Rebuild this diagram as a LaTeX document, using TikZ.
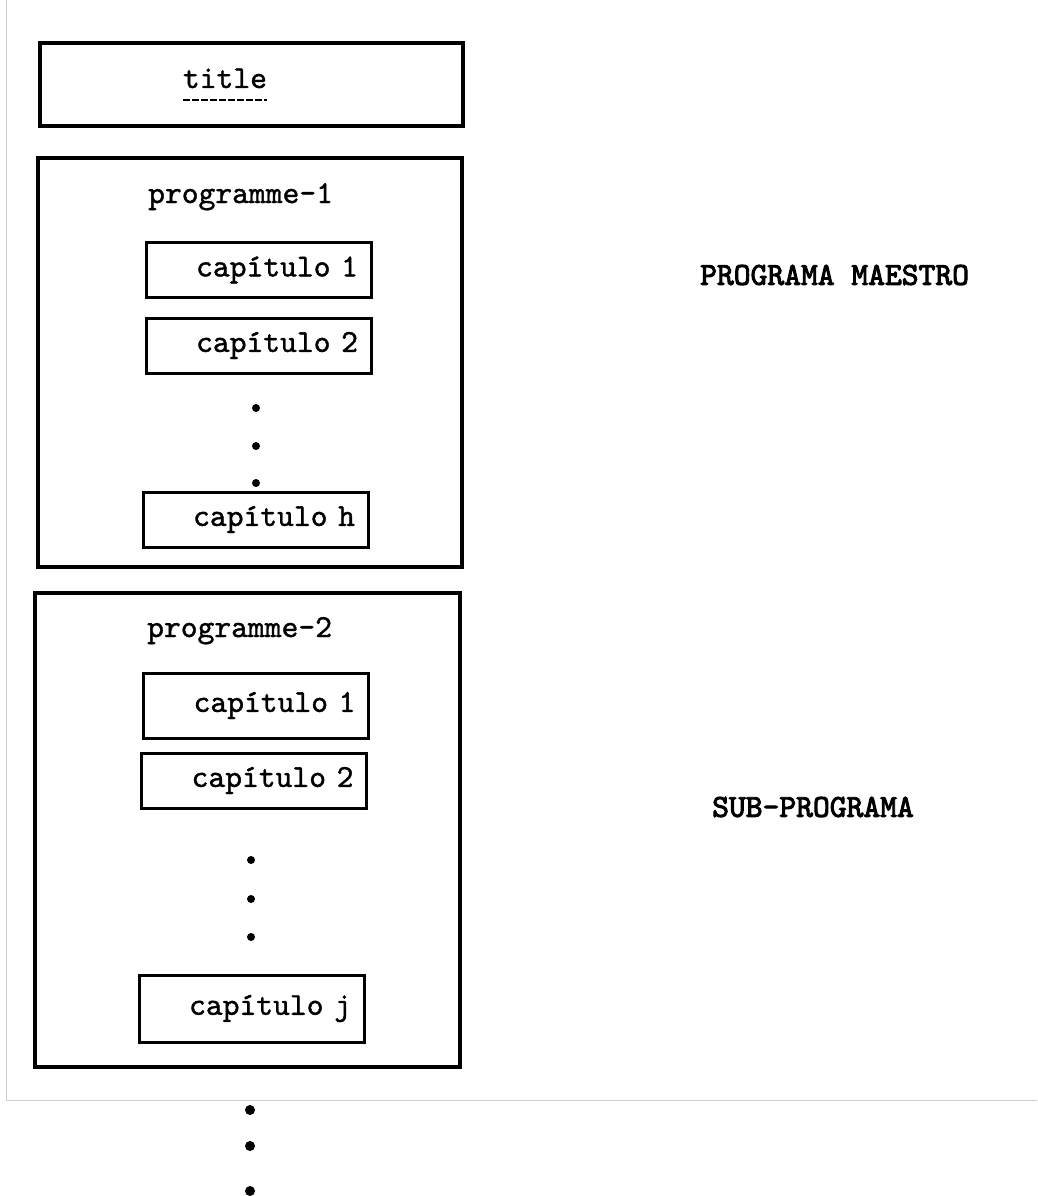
\documentclass[tikz,border=0pt]{standalone}
\usepackage{fontspec}
\usepackage{tikz}
\usetikzlibrary{positioning}
\newfontfamily\typeface{lmmono10-regular.otf}[FakeBold=1.2]
\newfontfamily\typeheavy{lmmono10-regular.otf}[FakeBold=3]
\definecolor{scanGray}{RGB}{205,205,205}
\newcommand{\typefont}{\fontsize{32}{37}\selectfont\typeface}
\newcommand{\heavyfont}{\fontsize{32}{37}\selectfont\typeheavy}

\begin{document}
\begin{tikzpicture}[x=1pt, y=-1pt, font=\typefont,
    outerbox/.style={draw, line width=3.6pt, inner sep=0pt},
    chapbox/.style={draw, line width=3pt, inner xsep=13pt, text width=199pt,
        align=right, minimum height=55pt},
    heading/.style={anchor=base west, inner sep=0pt},
    sidelabel/.style={anchor=west, inner sep=0pt, font=\heavyfont}]
    \useasboundingbox (0,0) rectangle (1037,1196);

    % edge of the scanned sheet
    \coordinate (E1) at (6,0);
    \coordinate (E2) at (6,1100);
    \coordinate (E3) at (1037,1100);
    \draw[scanGray, line width=1pt] (E1) -- (E2) -- (E3);

    % title
    \node[outerbox, minimum width=423pt, minimum height=83pt] (titlebox) at (251.5,84.5) {};
    \node[inner sep=0pt, anchor=base] (ttl) at (225,88) {title};
    \draw[line width=2.4pt, dash pattern=on 7pt off 2pt]
        ([yshift=-12pt]ttl.base west) -- ([yshift=-12pt]ttl.base east);

    % programme-1
    \node[outerbox, minimum width=424pt, minimum height=409pt] (prog1) at (250,362.5) {};
    \node[heading] (prog1name) at (148,203) {programme-1};
    \node[chapbox] (p1c1) at (258.5,270) {capítulo 1};
    \node[chapbox] (p1c2) at (258.5,345.5) {capítulo 2};
    \node[chapbox] (p1ch) at (255.5,519.5) {capítulo h};
    \foreach \y in {408,446,483}
        \fill (256,\y) circle (4pt);

    % programme-2
    \node[outerbox, minimum width=425pt, minimum height=474pt] (prog2) at (247.5,830) {};
    \node[heading] (prog2name) at (147,637) {programme-2};
    \node[chapbox, minimum height=65pt] (p2c1) at (256,705.5) {capítulo 1};
    \node[chapbox] (p2c2) at (254,780.5) {capítulo 2};
    \node[chapbox, minimum height=67pt] (p2cj) at (251.5,1008.5) {capítulo j};
    \foreach \y in {860,899,937}
        \fill (251,\y) circle (4pt);

    % more programmes follow
    \foreach \y in {1110,1146,1191}
        \fill (250,\y) circle (5pt);

    \node[sidelabel] (master) at (700,275) {PROGRAMA MAESTRO};
    \node[sidelabel] (sub) at (712,807) {SUB-PROGRAMA};
\end{tikzpicture}
\end{document}
